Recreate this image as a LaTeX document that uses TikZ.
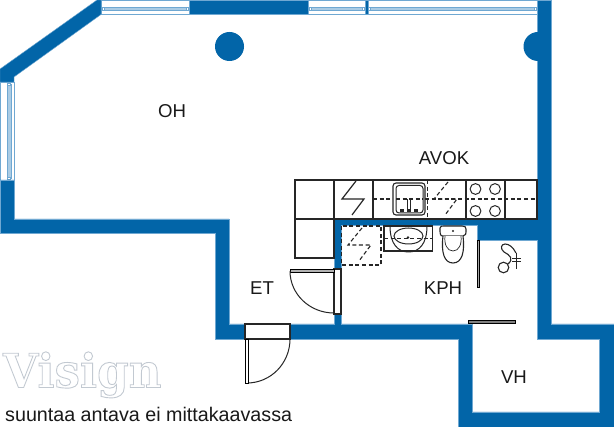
\documentclass[tikz,border=0pt]{standalone}
\usepackage{fontspec}
\setmainfont{Liberation Sans}
\newfontfamily\logofont{DejaVu Serif}
\definecolor{wall}{HTML}{0265A8}
\definecolor{wedge}{HTML}{6FA8D2}
\definecolor{glass}{HTML}{A9CBE4}
\tikzset{
  walls/.style={fill=wall,draw=wedge,line width=.4pt},
  winframe/.style={fill=white,draw=wedge,line width=.9pt},
  winglass/.style={fill=glass,draw=wedge,line width=.5pt},
  winclip/.style={fill=white,draw=wedge,line width=.5pt},
  fixture/.style={draw=black!85,line width=1.1pt,fill=white},
  thinline/.style={draw=black!85,line width=1pt},
  dashline/.style={draw=black!85,line width=1.1pt,dash pattern=on 4pt off 2.6pt},
  leaf/.style={draw=black,line width=.7pt,fill=black!50},
  label/.style={font=\fontsize{18.6}{18.6}\selectfont,text=black!90,inner sep=0pt},
}
\newcommand{\boltsym}[2]{%
  \draw[#2] (#1) ++(7,-17) -- ++(-14,17) -- ++(23,0) -- ++(-12,16);}
\begin{document}
\begin{tikzpicture}[x=1pt,y=-1pt,line join=miter]
\useasboundingbox (0,0) rectangle (614,427);
\fill[white] (0,0) rectangle (614,427);
% windows
\path[winframe] (101,0.4) rectangle (189,14.5);
\path[winframe] (308,0.4) rectangle (365,14.5);
\path[winframe] (368,0.4) rectangle (537,14.5);
\path[winframe] (0.4,82) rectangle (14,180);
\path[winglass] (103,7.3) rectangle (188,10.7);
\path[winglass] (310,7.3) rectangle (364,10.7);
\path[winglass] (370,7.3) rectangle (536,10.7);
\path[winglass] (7,84) rectangle (11,178);
\foreach \wx in {103,187,310,363,369.5,535}
  \path[winclip] (\wx-1.2,7.6) rectangle (\wx+1.2,10.4);
\foreach \wy in {84,178}
  \path[winclip] (7.4,\wy-1.2) rectangle (10.6,\wy+1.2);
% walls
\path[walls] (0,69) -- (97,0) -- (101,0) -- (101,14.5) -- (14,77) -- (14,82) -- (0,82) -- cycle;
\path[walls] (189,0) rectangle (308,14.5);
\path[walls] (365,0) rectangle (368,14.5);
\path[walls,even odd rule]
  (0,180) -- (14,180) -- (14,219) -- (229,219) -- (229,324) -- (334,324) -- (334,219) -- (537,219)
  -- (537,0) -- (551.5,0) -- (551.5,324) -- (614,324) -- (614,427) -- (458,427) -- (458,339)
  -- (215,339) -- (215,233) -- (0,233) -- cycle
  (341,225.5) -- (477,225.5) -- (477,240) -- (537,240) -- (537,339) -- (599,339) -- (599,412)
  -- (472,412) -- (472,324) -- (341,324) -- cycle;
\fill[wall] (229.5,46.5) circle (14.5);
\fill[wall] (538,32) arc (-90:-270:14.5) -- cycle;
% door openings
\path[fixture] (245,324) rectangle (290,339);
\draw[thinline] (247,383) arc (90:0:43 and 44);
\path[leaf,fill=white] (245.5,339) rectangle (248,383);
\path[fixture] (334,269) rectangle (341,314);
\path[leaf,fill=black!30] (290,269) rectangle (334,272);
\draw[thinline] (290,271) arc (180:90:44 and 42);
% cabinets
\path[fixture] (295,180) rectangle (537,219);
\path[fixture] (295,219) rectangle (334,258);
\draw[thinline,line width=1.1pt] (334,180) -- (334,219) (373,180) -- (373,219) (466,180) -- (466,219) (505,180) -- (505,219);
\draw[dashline] (373,199) -- (393,199) (425,199) -- (537,199);
\draw[dashline] (427.5,180) -- (427.5,219);
\draw[thinline,line width=1.2pt] (356,181) -- (342,199) -- (364,199) -- (352,215);
\boltsym{441,199}{dashline}
% sink
\draw[fixture,rounded corners=3pt] (393,183) rectangle (425,215);
\draw[thinline,rounded corners=3pt] (396,185.5) rectangle (423,213);
\draw[dashline] (396,199) -- (423,199);
\draw[black!85,line width=1pt] (407,199) -- (407,212) (410.5,199) -- (410.5,212);
\draw[line width=2.6pt,black!85] (400,210.8) -- (403.5,210.8) (407,210.8) -- (410.5,210.8) (414,210.8) -- (417.5,210.8);
% stove
\foreach \cx/\cy in {475.5/189,495/189,475.5/211,495/211}
  \draw[thinline,fill=white] (\cx,\cy) circle (5.4);
% bathroom
\draw[dashline] (341.5,226) rectangle (381,265);
\boltsym{355,245}{dashline}
\path[fixture] (384,226) rectangle (432.5,251);
\draw[thinline] (390,226) .. controls (390,244) and (398,252) .. (408.5,252) .. controls (419,252) and (427,244) .. (427,226);
\draw[thinline] (408.5,236) ellipse (14.5 and 8);
\draw[dashline] (384,238.7) -- (432,238.7);
\fill[black!85] (408,237.5) circle (1.3);
% toilet
\draw[fixture] (443,236) .. controls (440,236) and (440,234) .. (440,228) .. controls (440,226) and (442,226) .. (444,226) -- (462,226) .. controls (465,226) and (466,227) .. (466,229) .. controls (466,234) and (466,236) .. (463,236) -- cycle;
\draw[fixture] (443,236) .. controls (441,252) and (444,263) .. (453,263) .. controls (462,263) and (465,252) .. (463,236);
\draw[thinline,line width=.7pt] (445,236) .. controls (444,244) and (447,251) .. (453,251) .. controls (459,251) and (462,244) .. (461,236);
\fill[black!85] (453,231) circle (1.2);
% partition and sliding door
\path[leaf,fill=black!35] (477,240) rectangle (479.5,287.5);
\path[leaf] (468,320.8) rectangle (515,323.4);
% drain
\draw[thinline,line width=1.1pt] (503.5,267.5) circle (5.3);
\draw[thinline,line width=1.1pt] (516,253) .. controls (513,247) and (509,244) .. (505,244) .. controls (501,244) and (500,249) .. (504,252) .. controls (510,255) and (514,259) .. (508,264);
\draw[thinline] (516,253) -- (516,269) (512,259) -- (521,259) (512,261.8) -- (521,261.8);
% labels
\node[label] at (172,111) {OH};
\node[label] at (444,158) {AVOK};
\node[label] at (262,288) {ET};
\node[label] at (443,288) {KPH};
\node[label] at (514,377) {VH};
\node[label,font=\fontsize{19.7}{19.7}\selectfont,anchor=base west] at (5,421.5) {suuntaa antava ei mittakaavassa};
% logo
\node[inner sep=0pt,anchor=base west,xscale=.96] at (3,387.5)
  {\special{pdf:code q 1 Tr 0.9 w 0.76 0.79 0.82 RG}\logofont\bfseries\fontsize{47}{47}\selectfont Visign\special{pdf:code Q}};
\end{tikzpicture}
\end{document}
